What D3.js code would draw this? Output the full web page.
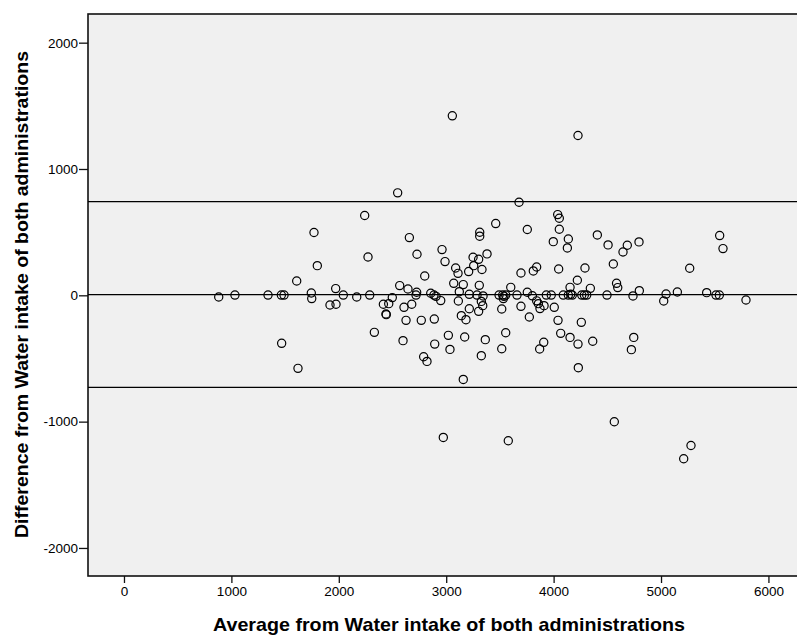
<!DOCTYPE html>
<html>
<head>
<meta charset="utf-8">
<script src="https://cdn.jsdelivr.net/npm/d3@7"></script>
<style>
  html, body { margin: 0; padding: 0; background: #ffffff; }
  svg { display: block; }
  text { font-family: "Liberation Sans", Arial, sans-serif; fill: #000; }
</style>
</head>
<body>
<svg id="chart" width="797" height="637"></svg>
<script>
// Average of both administrations (x) and difference (y)
const avgValues = [
  882, 1033, 1341, 1465, 1490, 1468, 1620, 1608, 1744, 1748,
  1769, 1800, 1918, 1974, 1971, 2042, 2167, 2288, 2272, 2241,
  2331, 2415, 2465, 2498, 2439, 2442, 2548, 2567, 2644, 2725,
  2719, 2607, 2679, 2626, 2598, 2657, 2728, 2800, 2768, 2790,
  2821, 2856, 2886, 2905, 2889, 2893, 2949, 2961, 2989, 3020,
  3035, 2973, 3057, 3070, 3088, 3110, 3122, 3113, 3141, 3159,
  3159, 3172, 3184, 3209, 3215, 3215, 3250, 3256, 3287, 3302,
  3302, 3308, 3312, 3312, 3327, 3327, 3333, 3340, 3343, 3364,
  3380, 3461, 3492, 3526, 3538, 3554, 3532, 3517, 3517, 3554,
  3578, 3601, 3659, 3678, 3696, 3696, 3755, 3755, 3774, 3802,
  3811, 3842, 3842, 3858, 3873, 3911, 3908, 3870, 3932, 3978,
  3997, 4006, 4038, 4053, 4053, 4047, 4041, 4066, 4090, 4137,
  4159, 4174, 4153, 4137, 4128, 4153, 4221, 4227, 4227, 4230,
  4262, 4286, 4308, 4258, 4292, 4342, 4364, 4407, 4497, 4507,
  4556, 4565, 4586, 4597, 4646, 4686, 4724, 4746, 4739, 4795,
  4798, 5025, 5047, 5152, 5211, 5267, 5279, 5425, 5512, 5543,
  5546, 5577, 5791
];
const diffValues = [
  -13, 2, 2, 2, 2, -380, -578, 113, 18, -26,
  497, 235, -77, -71, 53, 2, -13, 2, 303, 632,
  -293, -71, -66, -18, -148, -153, 811, 77, 50, 24,
  2, -95, -71, -198, -359, 457, 325, 153, -198, -486,
  -523, 16, 2, -8, -188, -386, -42, 362, 267, -317,
  -428, -1125, 1421, 95, 216, 174, 29, -45, -161, 85,
  -666, -330, -193, 188, 8, -106, 301, 235, 2, 285,
  -127, 79, 499, 468, -48, -478, 204, -82, -5, -351,
  328, 568, 2, 2, -8, 2, -26, -108, -423, -296,
  -1151, 63, 2, 737, -87, 177, 24, 521, -172, -4,
  193, 224, -44, -66, -105, -82, -372, -425, 2, 2,
  425, -95, 639, 610, 523, 208, -198, -301, 2, 2,
  8, 2, 63, 446, 375, -333, 119, 1265, -386, -573,
  2, 2, 2, -214, 216, 55, -364, 478, 2, 399,
  248, -1001, 95, 61, 343, 396, -430, -333, -5, 423,
  37, -45, 10, 26, -1294, 214, -1189, 21, 2, 2,
  473, 370, -37
];
// Reference lines: upper limit, mean, lower limit
const refLines = [742, 5, -728];
const xTicks = [0, 1000, 2000, 3000, 4000, 5000, 6000];
const yTicks = [-2000, -1000, 0, 1000, 2000];
const xTitle = "Average from Water intake of both administrations";
const yTitle = "Difference from Water intake of both administrations";

const svg = d3.select("#chart");
const plot = { left: 88, right: 797, top: 14, bottom: 576 };

const x = d3.scaleLinear().domain([-335, 6266]).range([plot.left, plot.right]);
const y = d3.scaleLinear().domain([-2222, 2227]).range([plot.bottom, plot.top]);

// plot background
svg.append("rect")
  .attr("x", plot.left).attr("y", plot.top)
  .attr("width", plot.right - plot.left + 10)
  .attr("height", plot.bottom - plot.top)
  .attr("fill", "#f0f0f0")
  .attr("stroke", "#111")
  .attr("stroke-width", 1.6);

// reference lines
svg.append("g").selectAll("line").data(refLines).join("line")
  .attr("x1", plot.left).attr("x2", plot.right + 5)
  .attr("y1", d => y(d)).attr("y2", d => y(d))
  .attr("stroke", "#000").attr("stroke-width", 1.3);

// points
svg.append("g").selectAll("circle").data(avgValues.map((v, i) => [v, diffValues[i]])).join("circle")
  .attr("cx", d => x(d[0])).attr("cy", d => y(d[1]))
  .attr("r", 4.1)
  .attr("fill", "none")
  .attr("stroke", "#000")
  .attr("stroke-width", 1.2);

const fmt = d => String(d);

// axes
const xAxis = d3.axisBottom(x).tickValues(xTicks).tickSize(7).tickPadding(3).tickFormat(fmt);
const gx = svg.append("g").attr("transform", `translate(0,${plot.bottom})`).call(xAxis);
gx.select(".domain").remove();
gx.selectAll(".tick line").attr("stroke", "#111").attr("stroke-width", 1.3);
gx.selectAll(".tick text").attr("font-size", 13.5).attr("fill", "#000")
  .attr("font-family", "'Liberation Sans', Arial, sans-serif");

const yAxis = d3.axisLeft(y).tickValues(yTicks).tickSize(9).tickPadding(1).tickFormat(fmt);
const gy = svg.append("g").attr("transform", `translate(${plot.left},0)`).call(yAxis);
gy.select(".domain").remove();
gy.selectAll(".tick line").attr("stroke", "#111").attr("stroke-width", 1.3);
gy.selectAll(".tick text").attr("font-size", 13.5).attr("fill", "#000")
  .attr("font-family", "'Liberation Sans', Arial, sans-serif");

// titles
svg.append("text")
  .attr("x", 213).attr("y", 631)
  .attr("font-size", 18.5).attr("font-weight", "bold")
  .attr("textLength", 472).attr("lengthAdjust", "spacingAndGlyphs")
  .text(xTitle);

svg.append("text")
  .attr("transform", "translate(27.5,538) rotate(-90)")
  .attr("font-size", 18.5).attr("font-weight", "bold")
  .attr("textLength", 487).attr("lengthAdjust", "spacingAndGlyphs")
  .text(yTitle);
</script>
</body>
</html>
